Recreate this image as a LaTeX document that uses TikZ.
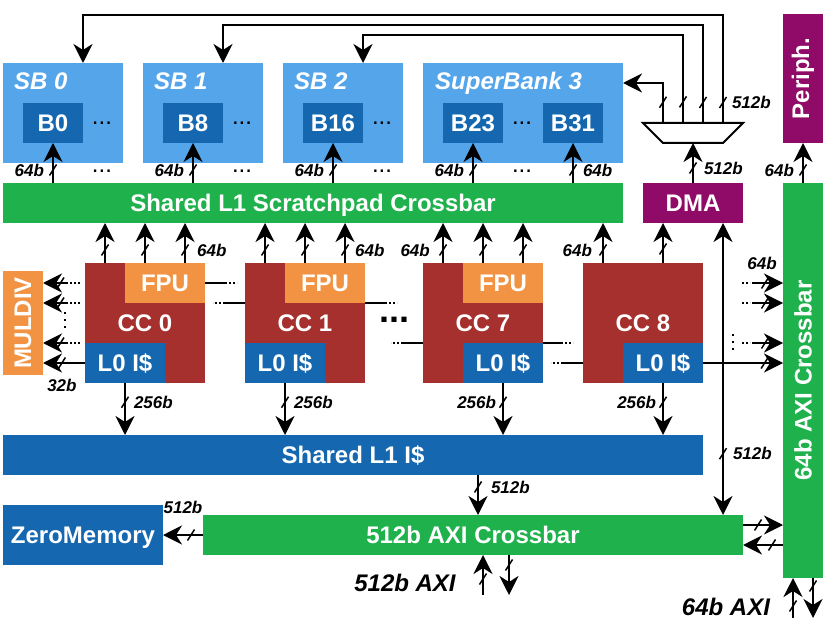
\documentclass[tikz,border=0pt]{standalone}
\usepackage{fontspec}
\setmainfont{Liberation Sans}
\usetikzlibrary{arrows.meta,positioning}

\definecolor{sbblue}{RGB}{85,165,234}
\definecolor{darkblue}{RGB}{21,104,176}
\definecolor{xbargreen}{RGB}{31,178,76}
\definecolor{dmapurple}{RGB}{144,10,104}
\definecolor{ccred}{RGB}{166,48,45}
\definecolor{fpuorange}{RGB}{241,147,66}

\newcommand{\bigfont}{\fontsize{24}{28}\selectfont\bfseries}
\newcommand{\smallfont}{\fontsize{17}{20}\selectfont\bfseries\itshape}

\tikzset{busmark/.pic={\draw[line width=1.5pt,-] (-3.5,5.5) -- (3.5,-5.5);}}

\begin{document}
\begin{tikzpicture}[x=1pt,y=-1pt]
\tikzstyle{block}=[inner sep=0pt,outer sep=0pt,text=white,font=\bigfont,text height=17pt,text depth=0pt]
\tikzstyle{turned}=[text height={},text depth={}]
\tikzstyle{superbank}=[block,fill=sbblue,minimum width=120pt,minimum height=100pt]
\tikzstyle{bank}=[block,fill=darkblue,minimum width=60pt,minimum height=40pt]
\tikzstyle{sbtitle}=[inner sep=0pt,anchor=base west,text=white,font=\bigfont\itshape]
\tikzstyle{xbar}=[block,fill=xbargreen,minimum height=40pt]
\tikzstyle{core}=[block,fill=ccred,minimum width=120pt,minimum height=120pt]
\tikzstyle{fpubox}=[block,fill=fpuorange,minimum width=80pt,minimum height=40pt]
\tikzstyle{icache}=[block,fill=darkblue,minimum width=80pt,minimum height=40pt]
\tikzstyle{morebanks}=[inner sep=0pt,anchor=base,font=\fontsize{24}{28}\selectfont]
\tikzstyle{bus}=[line width=2pt,-{Stealth[length=19pt,width=19pt,inset=6pt]}]
\tikzstyle{biarrow}=[line width=2pt,{Stealth[length=19pt,width=19pt,inset=6pt]}-{Stealth[length=19pt,width=19pt,inset=6pt]}]
\tikzstyle{wire}=[line width=2pt]
\tikzstyle{dottail}=[line width=2pt,dash pattern=on 2pt off 2pt]
\tikzstyle{vdots}=[line width=2pt,dash pattern=on 2pt off 5pt]
\tikzstyle{buswidth}=[inner sep=2pt,font=\smallfont]
\useasboundingbox (0,0) rectangle (832,636);

\node[superbank] (sb0) at (63,113) {};
\node[superbank] (sb1) at (203,113) {};
\node[superbank] (sb2) at (343,113) {};
\node[superbank,minimum width=200pt] (sb3) at (523,113) {};
\node[sbtitle] (sb0t) at ([xshift=11pt,yshift=-27pt]sb0.north west) {SB 0};
\node[sbtitle] (sb1t) at ([xshift=11pt,yshift=-27pt]sb1.north west) {SB 1};
\node[sbtitle] (sb2t) at ([xshift=11pt,yshift=-27pt]sb2.north west) {SB 2};
\node[sbtitle] (sb3t) at ([xshift=12pt,yshift=-27pt]sb3.north west) {SuperBank 3};
\node[bank] (b0) at (53,123) {B0};
\node[bank] (b8) at (193,123) {B8};
\node[bank] (b16) at (333,123) {B16};
\node[bank] (b23) at (473,123) {B23};
\node[bank] (b31) at (573,123) {B31};
\node[morebanks] (d0) at (102,125) {...};
\node[morebanks] (d1) at (242,125) {...};
\node[morebanks] (d2) at (382,125) {...};
\node[morebanks] (d3) at (522,125) {...};
\node[morebanks] (d0b) at (102,173) {...};
\node[morebanks] (d1b) at (242,173) {...};
\node[morebanks] (d2b) at (382,173) {...};
\node[morebanks] (d3b) at (522,173) {...};

\coordinate (mux) at (693,133);
\draw[wire] ([shift={(-50,-10)}]mux) -- ([shift={(50,-10)}]mux) -- ([shift={(30,10)}]mux) -- ([shift={(-30,10)}]mux) -- cycle;
\node[block,turned,fill=dmapurple,minimum width=40pt,minimum height=129pt] (periph) at (803,78.5) {\rotatebox{90}{Periph.}};

\node[xbar,minimum width=620pt] (sbx) at (313,203) {Shared L1 Scratchpad Crossbar};
\node[block,fill=dmapurple,minimum width=100pt,minimum height=40pt] (dma) at (693,203) {DMA};
\node[block,turned,fill=xbargreen,minimum width=40pt,minimum height=395pt] (axi64) at (803,380.5) {\rotatebox{90}{64b AXI Crossbar}};

\node[core] (cc0) at (145,323) {CC 0};
\node[fpubox,anchor=north east] (fpu0) at (cc0.north east) {FPU};
\node[icache,anchor=south west] (l0i0) at (cc0.south west) {L0 I\$};
\node[core] (cc1) at (305,323) {CC 1};
\node[fpubox,anchor=north east] (fpu1) at (cc1.north east) {FPU};
\node[icache,anchor=south west] (l0i1) at (cc1.south west) {L0 I\$};
\node[core] (cc7) at (483,323) {CC 7};
\node[fpubox,anchor=north east] (fpu7) at (cc7.north east) {FPU};
\node[icache,anchor=south east] (l0i7) at (cc7.south east) {L0 I\$};
\node[core] (cc8) at (643,323) {CC 8};
\node[icache,anchor=south east] (l0i8) at (cc8.south east) {L0 I\$};
\node[font=\fontsize{36}{40}\selectfont\bfseries,inner sep=0pt,anchor=base] (gap) at (394.5,322) {...};
\node[block,turned,fill=fpuorange,minimum width=40pt,minimum height=104pt] (muldiv) at (23,323) {\rotatebox{90}{MULDIV}};

\node[block,fill=darkblue,minimum width=700pt,minimum height=40pt] (l1i) at (353,455) {Shared L1 I\$};
\node[xbar,minimum width=540pt] (axi512) at (473,535) {512b AXI Crossbar};
\node[block,fill=darkblue,minimum width=160pt,minimum height=60pt] (zmem) at (83,535) {ZeroMemory};
\node[font=\bigfont\itshape] (axi512lbl) at (405,583) {512b AXI};
\node[font=\bigfont\itshape] (axi64lbl) at (726,607) {64b AXI};

\draw[bus] ([xshift=-30pt,yshift=10pt]mux) |- ([yshift=30pt]sb3.east) pic[pos=.26]{busmark};
\draw[bus] ([xshift=-10pt,yshift=10pt]mux) -- ++(0,-88) pic[pos=.24]{busmark} -| ([xshift=20pt]sb2.north);
\draw[bus] ([xshift=10pt,yshift=10pt]mux) -- ++(0,-98) pic[pos=.21]{busmark} -| ([xshift=20pt]sb1.north);
\draw[bus] ([xshift=30pt,yshift=10pt]mux) -- ++(0,-108) pic[pos=.19]{busmark}
  node[buswidth,right=6pt,pos=.19] (w0) {512b} -| ([xshift=20pt]sb0.north);
\draw[bus] (dma.north) -- ([yshift=-10pt]mux) pic[pos=.375]{busmark} node[buswidth,right=8pt,pos=.375] (w1) {512b};
\draw[bus] (axi64.north) -- (periph.south) pic[pos=.325]{busmark} node[buswidth,left=6pt,pos=.325] (w2) {64b};

\draw[bus] (b0.south |- sbx.north) -- (b0.south) pic[pos=.325]{busmark} node[buswidth,left=6pt,pos=.325] (w3) {64b};
\draw[bus] (b8.south |- sbx.north) -- (b8.south) pic[pos=.325]{busmark} node[buswidth,left=6pt,pos=.325] (w4) {64b};
\draw[bus] (b16.south |- sbx.north) -- (b16.south) pic[pos=.325]{busmark} node[buswidth,left=6pt,pos=.325] (w5) {64b};
\draw[bus] (b23.south |- sbx.north) -- (b23.south) pic[pos=.325]{busmark} node[buswidth,left=6pt,pos=.325] (w6) {64b};
\draw[bus] (b31.south |- sbx.north) -- (b31.south) pic[pos=.325]{busmark} node[buswidth,right=7pt,pos=.325] (w7) {64b};

\foreach \c in {cc0,cc1,cc7}
  \foreach \dx in {-40,0,40}
    \draw[bus] ([xshift=\dx pt]\c.north) -- ([xshift=\dx pt]\c.north |- sbx.south) pic[pos=.325]{busmark};
\path ([xshift=40pt]cc0.north) -- ([xshift=40pt]cc0.north |- sbx.south) node[buswidth,right=10pt,pos=.325] (w8) {64b};
\path ([xshift=40pt]cc1.north) -- ([xshift=40pt]cc1.north |- sbx.south) node[buswidth,right=8pt,pos=.325] (w9) {64b};
\path ([xshift=-40pt]cc7.north) -- ([xshift=-40pt]cc7.north |- sbx.south) node[buswidth,left=11pt,pos=.325] (w10) {64b};
\draw[bus] ([xshift=-40pt]cc8.north) -- ([xshift=-40pt]cc8.north |- sbx.south) pic[pos=.325]{busmark}
  node[buswidth,left=8pt,pos=.325] (w11) {64b};
\draw[bus] ([xshift=20pt]cc8.north) -- ([xshift=20pt]cc8.north |- dma.south) pic[pos=.35]{busmark};
\draw[biarrow] ([xshift=30pt]dma.south) -- ([xshift=30pt]dma.south |- axi512.north) pic[pos=.79]{busmark}
  node[buswidth,right=7pt,pos=.79] (w12) {512b};

\draw[wire] (fpu0.east) -- ++(22,0);
\draw[dottail] ([xshift=24pt]fpu0.east) -- ++(8,0);
\draw[wire] (cc1.west |- fpu1.south) -- ++(-22,0);
\draw[dottail] ([xshift=-24pt]cc1.west |- fpu1.south) -- ++(-8,0);
\draw[wire] (fpu1.south east) -- ++(22,0);
\draw[dottail] ([xshift=24pt]fpu1.south east) -- ++(8,0);
\draw[wire] (cc7.west |- l0i7.north) -- ++(-22,0);
\draw[dottail] ([xshift=-24pt]cc7.west |- l0i7.north) -- ++(-8,0);
\draw[wire] (l0i7.north east) -- ++(20,0);
\draw[dottail] ([xshift=22pt]l0i7.north east) -- ++(8,0);
\draw[wire] (cc8.west |- l0i8) -- ++(-22,0);
\draw[dottail] ([xshift=-24pt]cc8.west |- l0i8) -- ++(-8,0);

\draw[dottail] ([xshift=-5pt]cc0.west |- fpu0) -- ++(-10,0);
\draw[bus] ([xshift=-17pt]cc0.west |- fpu0) -- (muldiv.east |- fpu0) pic[pos=.3]{busmark};
\draw[dottail] ([xshift=-5pt]cc0.west |- fpu0.south) -- ++(-10,0);
\draw[bus] ([xshift=-17pt]cc0.west |- fpu0.south) -- (muldiv.east |- fpu0.south) pic[pos=.3]{busmark};
\draw[dottail] ([xshift=-5pt]cc0.west |- l0i0.north) -- ++(-10,0);
\draw[bus] ([xshift=-17pt]cc0.west |- l0i0.north) -- (muldiv.east |- l0i0.north) pic[pos=.3]{busmark};
\draw[bus] (l0i0.west) -- (muldiv.east |- l0i0) pic[pos=.55]{busmark} node[buswidth,below=13pt,pos=.55] (w13) {32b};
\draw[vdots] (65,312) -- (65,330);

\draw[dottail] ([xshift=39pt]l0i8.east |- fpu7) -- ++(8,0);
\draw[bus] ([xshift=49pt]l0i8.east |- fpu7) -- (axi64.west |- fpu7) pic[pos=.42]{busmark};
\draw[dottail] ([xshift=39pt]l0i8.east |- fpu7.south) -- ++(8,0);
\draw[bus] ([xshift=49pt]l0i8.east |- fpu7.south) -- (axi64.west |- fpu7.south) pic[pos=.42]{busmark};
\draw[dottail] ([xshift=39pt]l0i8.east |- l0i8.north) -- ++(8,0);
\draw[bus] ([xshift=49pt]l0i8.east |- l0i8.north) -- (axi64.west |- l0i8.north) pic[pos=.42]{busmark};
\draw[bus] (l0i8.east) -- (axi64.west |- l0i8) pic[pos=.77]{busmark};
\draw[vdots] (733,334) -- (733,352);
\node[buswidth] (w14) at (762,263) {64b};

\draw[bus] (l0i0.south) -- (l0i0.south |- l1i.north) pic[pos=.37]{busmark} node[buswidth,right=6pt,pos=.37] (w15) {256b};
\draw[bus] (l0i1.south) -- (l0i1.south |- l1i.north) pic[pos=.37]{busmark} node[buswidth,right=6pt,pos=.37] (w16) {256b};
\draw[bus] (l0i7.south) -- (l0i7.south |- l1i.north) pic[pos=.37]{busmark} node[buswidth,left=4pt,pos=.37] (w17) {256b};
\draw[bus] (l0i8.south) -- (l0i8.south |- l1i.north) pic[pos=.37]{busmark} node[buswidth,left=4pt,pos=.37] (w18) {256b};

\draw[bus] ([xshift=125pt]l1i.south) -- ([xshift=125pt]l1i.south |- axi512.north) pic[pos=.3]{busmark}
  node[buswidth,right=10pt,pos=.3] (w19) {512b};
\draw[bus] (axi512.west) -- (zmem.east) pic[pos=.3]{busmark} node[buswidth,above=18pt,pos=.5] (w20) {512b};
\draw[bus] ([xshift=10pt,yshift=-40pt]axi512.south) -- ([xshift=10pt]axi512.south) pic[pos=.4]{busmark};
\draw[bus] ([xshift=36pt]axi512.south) -- ([xshift=36pt,yshift=-40pt]axi512.south) pic[pos=.25]{busmark};
\draw[bus] ([yshift=10pt]axi512.east) -- ([yshift=10pt]axi512.east -| axi64.west) pic[pos=.375]{busmark};
\draw[bus] ([yshift=-10pt]axi512.east -| axi64.west) -- ([yshift=-10pt]axi512.east) pic[pos=.275]{busmark};
\draw[bus] ([xshift=-10pt,yshift=-40pt]axi64.south) -- ([xshift=-10pt]axi64.south) pic[pos=.3]{busmark};
\draw[bus] ([xshift=10pt]axi64.south) -- ([xshift=10pt,yshift=-40pt]axi64.south) pic[pos=.2]{busmark};
\end{tikzpicture}
\end{document}
